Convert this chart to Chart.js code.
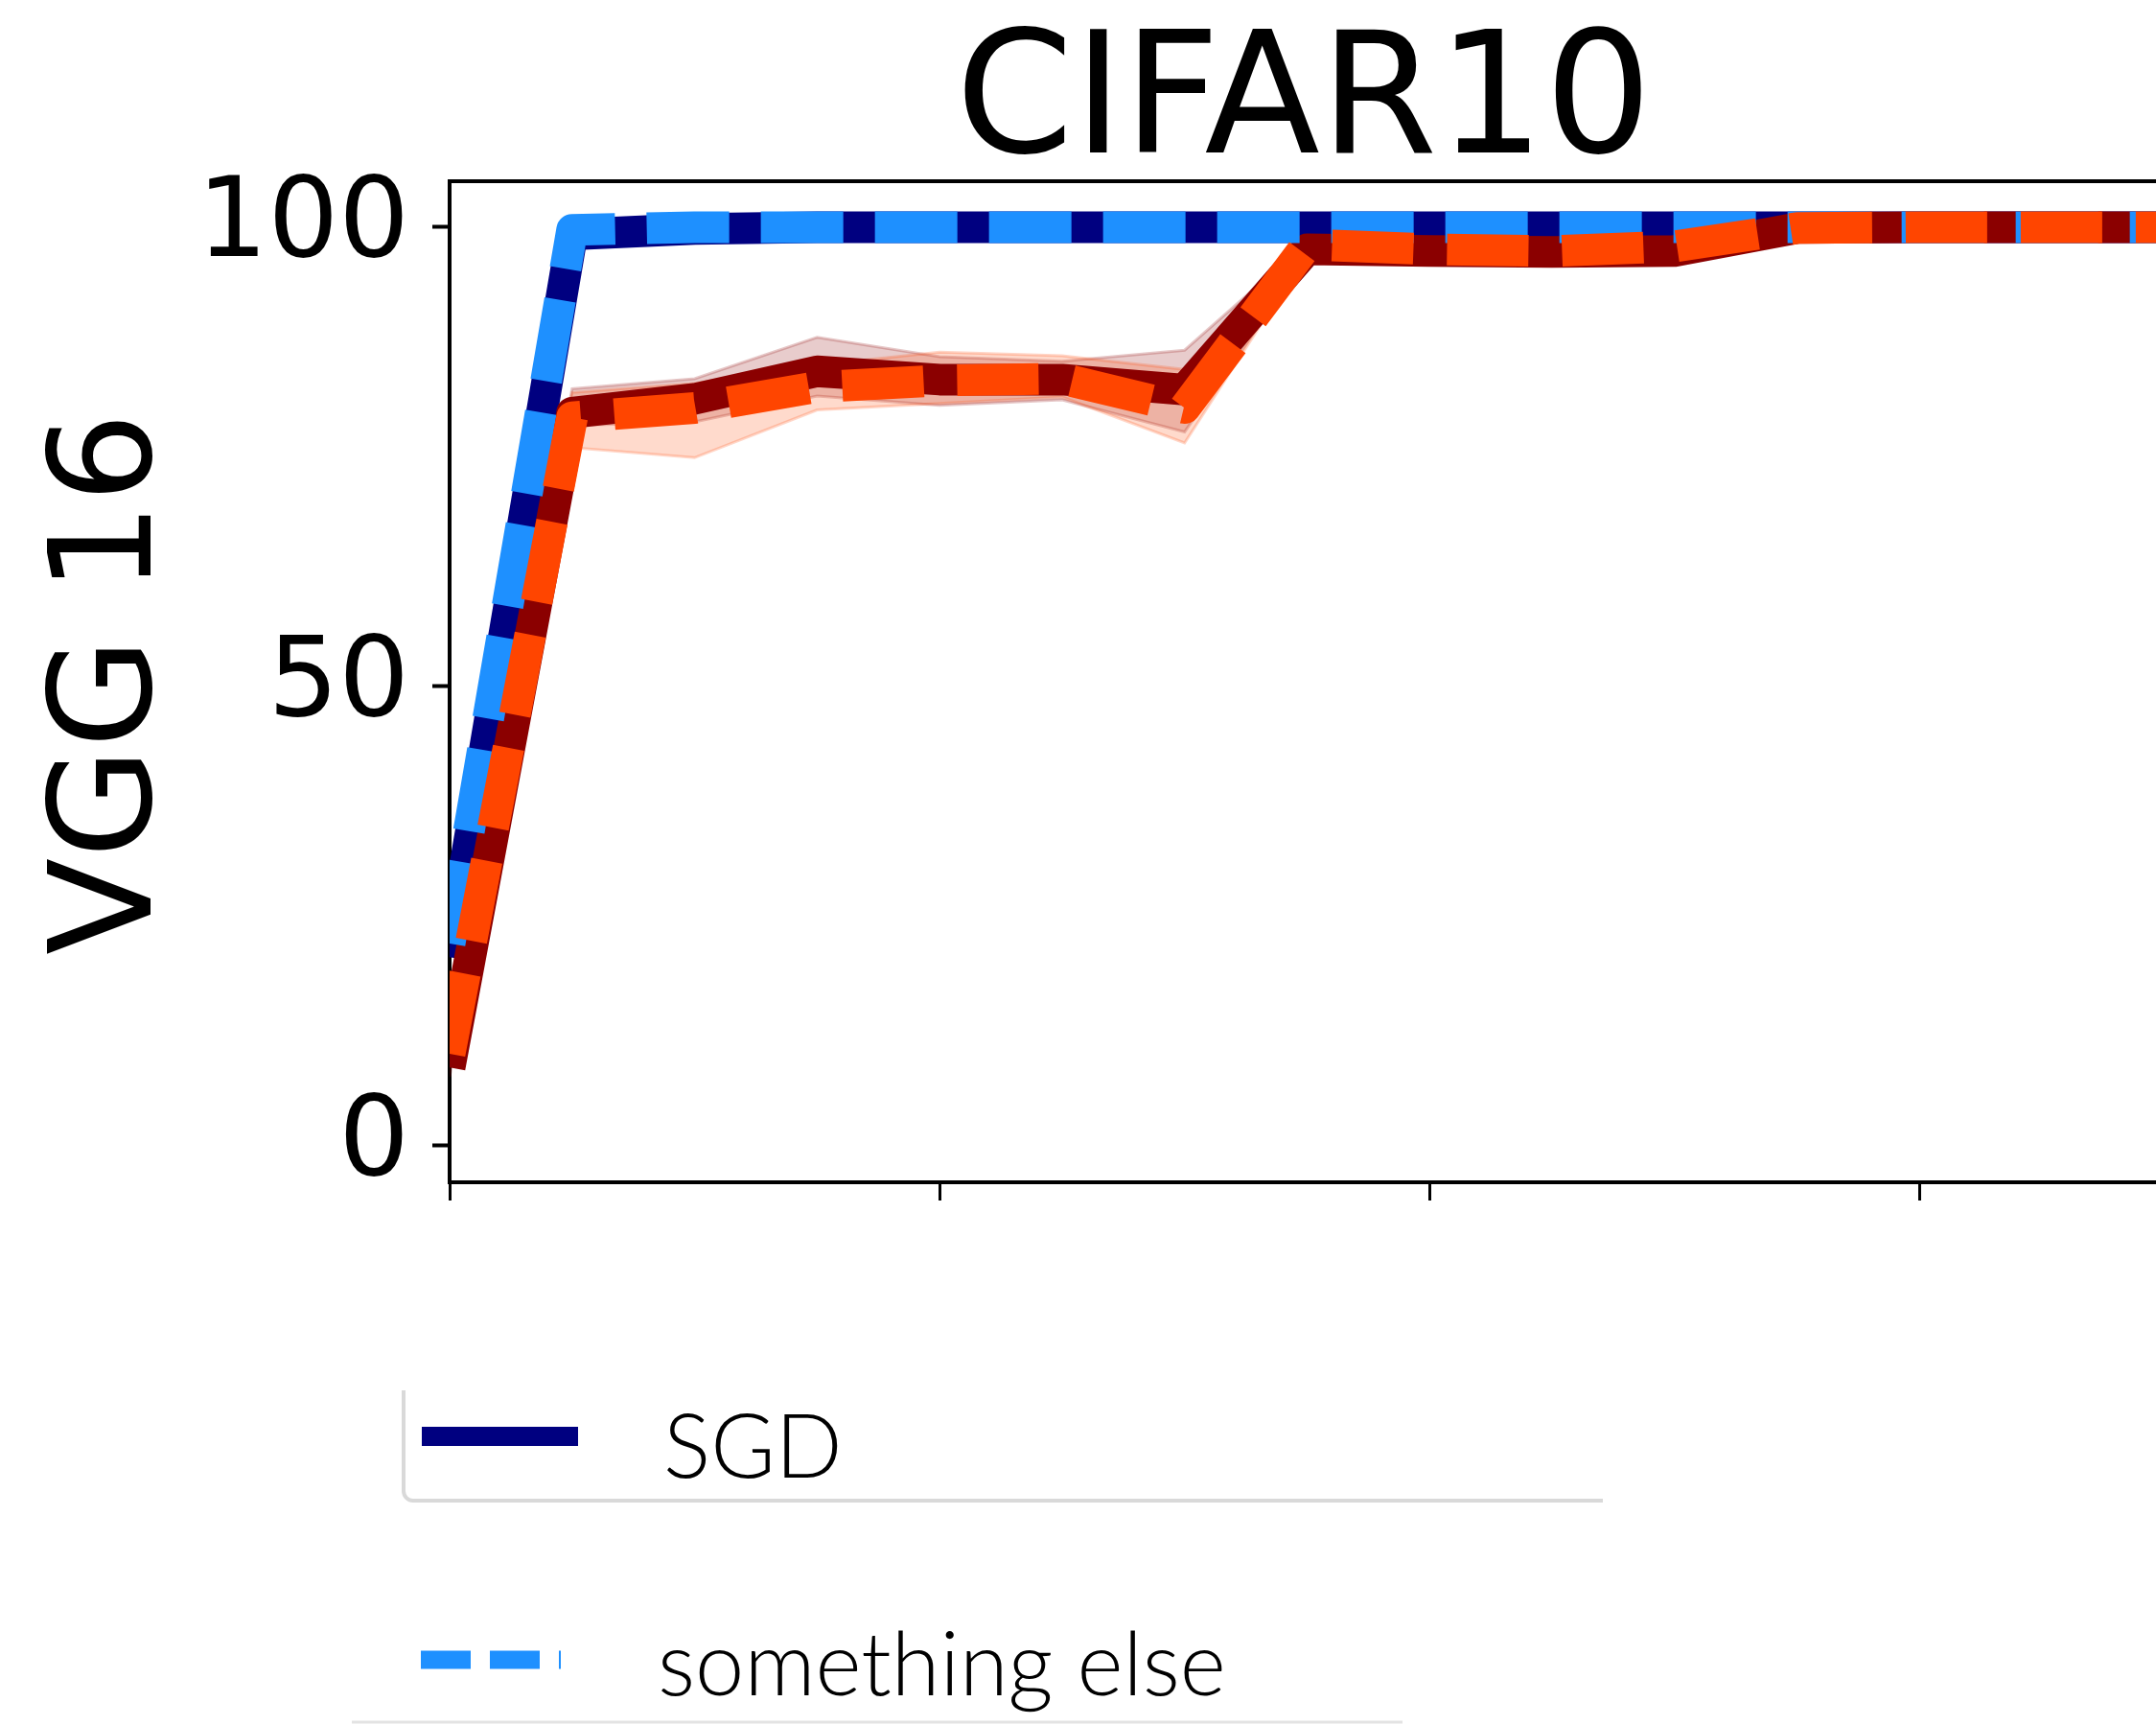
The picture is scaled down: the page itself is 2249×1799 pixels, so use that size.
<!DOCTYPE html>
<html lang="en">
<head>
<meta charset="UTF-8">
<title>CIFAR10 - VGG 16</title>
<script src="https://cdn.jsdelivr.net/npm/chart.js"></script>
<style>
    html, body { margin: 0; padding: 0; background: #fff; overflow: hidden; }
    #wrap { position: relative; width: 2258px; height: 1799px; }
</style>
</head>
<body>
<div id="wrap"><canvas id="accChart" width="2258" height="1799"></canvas></div>
<script>
// epochs on the x axis and accuracy (%) per optimiser
const epochs = [0, 1, 2, 3, 4, 5, 6, 7, 8, 9, 10, 11, 12, 13, 14];
const xTicks = [0, 4, 8, 12];
const yTicks = [0, 50, 100];

const sgd = [20.5, 99.2, 99.8, 100, 100, 100, 100, 100, 100, 100, 100, 100, 100, 100, 100];
const somethingElse = [22, 99.7, 100, 100, 100, 100, 100, 100, 100, 100, 100, 100, 100, 100, 100];
const runC = [8.5, 79.8, 81.3, 84.3, 83.4, 83.4, 82.3, 97.6, 97.4, 97.3, 97.4, 99.9, 100, 100, 100];
const runCHi = [9.5, 82.4, 83.5, 88.0, 85.9, 85.4, 86.6, 98.4, 98.1, 98.1, 98.1, 100.2, 100.1, 100.1, 100.1];
const runCLo = [7.5, 78.4, 78.8, 81.6, 80.6, 81.2, 77.7, 96.8, 96.7, 96.5, 96.7, 99.6, 99.9, 99.9, 99.9];
const runD = [10, 79.3, 80.3, 82.6, 83.3, 83.5, 80.3, 98.1, 97.6, 97.4, 97.9, 99.9, 100, 100, 100];
const runDHi = [11, 82.0, 83.0, 85.0, 86.4, 86.0, 84.5, 99.0, 98.4, 98.3, 98.7, 100.2, 100.1, 100.1, 100.1];
const runDLo = [9, 76.0, 74.9, 80.1, 80.8, 81.5, 76.5, 97.2, 96.8, 96.5, 97.1, 99.6, 99.9, 99.9, 99.9];

const pts = vals => epochs.map((e, i) => ({ x: e, y: vals[i] }));

function line(label, vals, color, dash, order) {
    return {
        label: label,
        data: pts(vals),
        borderColor: color,
        backgroundColor: color,
        borderWidth: 33,
        borderDash: dash,
        borderCapStyle: 'butt',
        borderJoinStyle: 'round',
        pointRadius: 0,
        tension: 0,
        fill: false,
        clip: 0,
        order: order
    };
}

function band(vals, fillColor, edgeColor, fillTo, order) {
    return {
        label: '',
        data: pts(vals),
        borderColor: edgeColor,
        backgroundColor: fillColor,
        borderWidth: 3,
        pointRadius: 0,
        tension: 0,
        fill: fillTo,
        clip: 0,
        order: order
    };
}

// title, rotated y label, top spine and the legend boxes below the axes
const decorations = {
    id: 'decorations',
    afterDraw(chart) {
        const ctx = chart.ctx;
        const area = chart.chartArea;
        ctx.save();

        ctx.strokeStyle = '#000';
        ctx.lineWidth = 4;
        ctx.beginPath();
        ctx.moveTo(area.left - 2, area.top);
        ctx.lineTo(area.right, area.top);
        ctx.stroke();

        ctx.fillStyle = '#000';
        ctx.font = '176px "DejaVu Sans"';
        ctx.textAlign = 'center';
        ctx.textBaseline = 'alphabetic';
        ctx.fillText('CIFAR10', 1360, 159);

        ctx.save();
        ctx.translate(157, 713);
        ctx.rotate(-Math.PI / 2);
        ctx.font = '148px "DejaVu Sans"';
        ctx.fillText('VGG 16', 0, 0);
        ctx.restore();

        // legend frames
        ctx.strokeStyle = '#d9d9d9';
        ctx.lineWidth = 4;
        ctx.beginPath();
        ctx.moveTo(421, 1450);
        ctx.lineTo(421, 1555);
        ctx.arcTo(421, 1565, 431, 1565, 10);
        ctx.lineTo(1672, 1565);
        ctx.stroke();

        ctx.strokeStyle = '#e3e3e3';
        ctx.lineWidth = 3;
        ctx.beginPath();
        ctx.moveTo(367, 1796);
        ctx.lineTo(1463, 1796);
        ctx.stroke();

        // legend handles
        ctx.lineCap = 'butt';
        ctx.strokeStyle = '#000080';
        ctx.lineWidth = 20;
        ctx.beginPath();
        ctx.moveTo(440, 1498);
        ctx.lineTo(603, 1498);
        ctx.stroke();

        ctx.strokeStyle = '#1e90ff';
        ctx.lineWidth = 19;
        ctx.setLineDash([52, 20]);
        ctx.beginPath();
        ctx.moveTo(439, 1731);
        ctx.lineTo(585, 1731);
        ctx.stroke();
        ctx.setLineDash([]);

        ctx.fillStyle = '#000';
        ctx.textAlign = 'left';
        ctx.font = '300 92px Lato';
        ctx.fillText('SGD', 692, 1541);
        ctx.fillText('something else', 686, 1768);

        ctx.restore();
    }
};

new Chart(document.getElementById('accChart'), {
    type: 'line',
    data: {
        datasets: [
            line('something else', somethingElse, '#1e90ff', [86, 33], 1),
            line('SGD', sgd, '#000080', [], 3),
            line('run C', runC, '#8b0000', [], 2),
            line('run D', runD, '#ff4500', [85, 35], 0),
            band(runCHi, 'rgba(139, 0, 0, 0.2)', 'rgba(139, 0, 0, 0.22)', '+1', 6),
            band(runCLo, 'rgba(139, 0, 0, 0.2)', 'rgba(139, 0, 0, 0.22)', false, 6),
            band(runDHi, 'rgba(255, 69, 0, 0.2)', 'rgba(255, 69, 0, 0.22)', '+1', 5),
            band(runDLo, 'rgba(255, 69, 0, 0.2)', 'rgba(255, 69, 0, 0.22)', false, 5)
        ]
    },
    options: {
        responsive: false,
        animation: false,
        events: [],
        layout: { padding: { top: 189, left: 0, right: 0, bottom: 0 } },
        plugins: {
            legend: { display: false },
            title: { display: false },
            tooltip: { enabled: false }
        },
        scales: {
            x: {
                type: 'linear',
                min: 0,
                max: 14,
                z: 1,
                afterBuildTicks: scale => { scale.ticks = xTicks.map(v => ({ value: v })); },
                afterFit: scale => { scale.height = 1799 - 1233; },
                grid: {
                    drawOnChartArea: false,
                    drawTicks: true,
                    tickLength: 19,
                    tickWidth: 3,
                    tickColor: '#000'
                },
                border: { display: true, color: '#000', width: 4 },
                ticks: { callback: () => '', maxRotation: 0, autoSkip: false }
            },
            y: {
                type: 'linear',
                min: -4,
                max: 105,
                z: 1,
                afterBuildTicks: scale => { scale.ticks = yTicks.map(v => ({ value: v })); },
                afterFit: scale => { scale.width = 469; },
                grid: {
                    drawOnChartArea: false,
                    drawTicks: true,
                    tickLength: 18,
                    tickWidth: 4,
                    tickColor: '#000'
                },
                border: { display: true, color: '#000', width: 4 },
                ticks: {
                    color: '#000',
                    padding: 24,
                    font: { family: 'DejaVu Sans', size: 116 }
                }
            }
        }
    },
    plugins: [decorations]
});
</script>
</body>
</html>
